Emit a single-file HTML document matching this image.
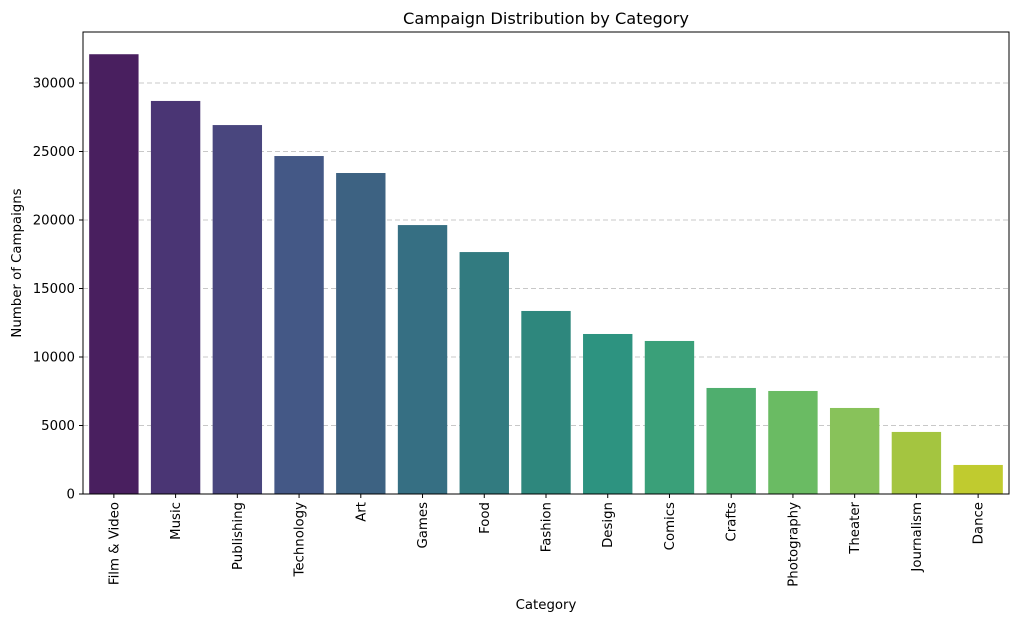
<!DOCTYPE html>
<html><head><meta charset="utf-8"><style>
body{margin:0;background:#fff;font-family:"Liberation Sans","DejaVu Sans",sans-serif;}
</style></head><body>
<svg id="chart" width="1023" height="622" xmlns="http://www.w3.org/2000/svg" font-family="DejaVu Sans, Liberation Sans, sans-serif"></svg>
<script>
const categories=["Film & Video","Music","Publishing","Technology","Art","Games","Food","Fashion","Design","Comics","Crafts","Photography","Theater","Journalism","Dance"];
const values=[32100,28690,26930,24670,23430,19630,17660,13360,11680,11170,7740,7520,6280,4530,2120];
const yTicks=[0,5000,10000,15000,20000,25000,30000];
const colors=["#491f5f","#4a3574","#49467e","#445886","#3d6282","#366f83","#327b80","#2e877d","#2d9380","#3aa079","#4fae6e","#6abb63","#88c25a","#a4c540","#c0cb2f"];
const L=83,R=1009,T=32,B=494;
const NS="http://www.w3.org/2000/svg";
const svg=document.getElementById('chart');
const step=(R-L)/categories.length;
function x(i){return L+i*step+step*0.1;}
function y(v){return B-v*(B-83)/30000;}
function el(t,a,txt){const e=document.createElementNS(NS,t);for(const k in a)e.setAttribute(k,a[k]);if(txt!==undefined)e.textContent=txt;svg.appendChild(e);return e;}
yTicks.forEach(v=>{
 if(v>0){const g=el('line',{x1:L,x2:R,y1:y(v),y2:y(v),stroke:'#c8c8c8','stroke-dasharray':'5,3','stroke-width':1});
 
 }
 const tk=el('line',{x1:L-4,x2:L,y1:y(v),y2:y(v),stroke:'#000'});
 
 
 const t=el('text',{x:L-8,y:y(v)+4.5,'text-anchor':'end','font-size':13.3},String(v));
 
 
});
categories.forEach((c,i)=>{
 const r=el('rect',{x:x(i),y:y(values[i]),width:step*0.8,height:B-y(values[i]),fill:colors[i]});
 
 
 const cx=L+(i+0.5)*step;
 const tk=el('line',{x1:cx,x2:cx,y1:B,y2:B+4,stroke:'#000'});
 
 
 const t=el('text',{x:cx+4.5,y:B+8,'text-anchor':'end','font-size':13.3,transform:`rotate(-90 ${cx+4.5} ${B+8})`},c);
 
 
});
const f=el('rect',{x:L,y:T,width:R-L,height:B-T,fill:'none',stroke:'#000','stroke-width':1});


const ti=el('text',{x:(L+R)/2,y:24,'text-anchor':'middle','font-size':16.2},'Campaign Distribution by Category');


const xl=el('text',{x:(L+R)/2,y:609,'text-anchor':'middle','font-size':13.3},'Category');


const yl=el('text',{x:21,y:(T+B)/2,'text-anchor':'middle','font-size':13.3,transform:`rotate(-90 21 ${(T+B)/2})`},'Number of Campaigns');


</script>
</body></html>
